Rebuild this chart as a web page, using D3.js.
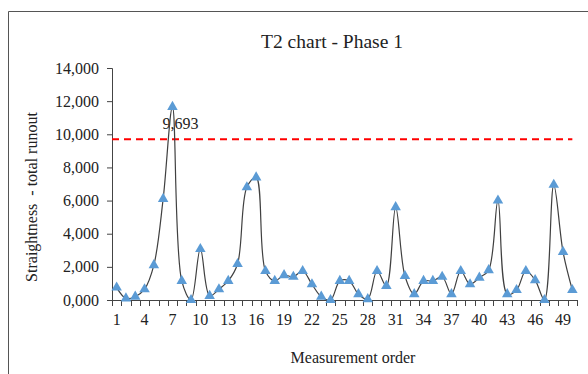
<!DOCTYPE html>
<html>
<head>
<meta charset="utf-8">
<script src="https://cdn.jsdelivr.net/npm/d3@7"></script>
<style>
  body { margin: 0; background: #fff; }
  svg text { font-family: "Liberation Serif", "DejaVu Serif", serif; fill: #222; }
</style>
</head>
<body>
<svg id="chart" width="588" height="374"></svg>
<script>
// measurement order 1..50
const order = d3.range(1, 51);
const runout = [
  750, 100, 200, 650, 2100, 6100, 11650, 1150, 0, 3080,
  250, 650, 1150, 2170, 6800, 7400, 1750, 1150, 1500, 1400,
  1750, 950, 200, 0, 1150, 1150, 350, 50, 1750, 850,
  5600, 1450, 350, 1150, 1150, 1400, 350, 1750, 950, 1350,
  1800, 6000, 350, 600, 1750, 1200, 0, 6950, 2900, 600
];
const limit = 9693;
const yTicks = [0, 2000, 4000, 6000, 8000, 10000, 12000, 14000];
const yTickLabels = ['0,000', '2,000', '4,000', '6,000', '8,000', '10,000', '12,000', '14,000'];
const xLabelled = [1, 4, 7, 10, 13, 16, 19, 22, 25, 28, 31, 34, 37, 40, 43, 46, 49];

const svg = d3.select('#chart');
const margin = { top: 68, right: 11, bottom: 74, left: 112 };
const width = 588 - margin.left - margin.right;
const height = 374 - margin.top - margin.bottom;

// frame (left + top edge visible)
svg.append('path')
  .attr('d', 'M8.5,374 V11.5 H588')
  .attr('fill', 'none')
  .attr('stroke', '#555')
  .attr('stroke-width', 1);

svg.append('text')
  .attr('x', 332).attr('y', 48)
  .attr('text-anchor', 'middle')
  .style('font-size', '19.5px')
  .text('T2 chart - Phase 1');

const g = svg.append('g').attr('transform', `translate(${margin.left},${margin.top})`);

const x = d3.scaleBand().domain(order).range([0, width]);
const y = d3.scaleLinear().domain([0, 14000]).range([height, 0]);

// y axis
const yAxis = g.append('g')
  .call(d3.axisLeft(y).tickValues(yTicks).tickSize(5).tickPadding(8)
    .tickFormat((d, i) => yTickLabels[i]));
yAxis.selectAll('text').style('font-size', '16px').attr('fill', '#222');
yAxis.selectAll('line, path').attr('stroke', '#444');
yAxis.select('.domain').attr('d', `M0.5,${height}V0.5H-5`);

// x axis: ticks at category boundaries
const xAxis = g.append('g').attr('transform', `translate(0,${height})`);
xAxis.append('line').attr('x1', 0).attr('x2', width).attr('y1', 0.5).attr('y2', 0.5).attr('stroke', '#444');
xAxis.selectAll('.tk')
  .data(d3.range(0, 51))
  .enter().append('line')
  .attr('x1', i => Math.round(i * x.step()) + 0.5)
  .attr('x2', i => Math.round(i * x.step()) + 0.5)
  .attr('y1', 0).attr('y2', 6)
  .attr('stroke', '#444');
xAxis.selectAll('.lbl')
  .data(xLabelled)
  .enter().append('text')
  .attr('x', d => x(d) + x.bandwidth() / 2)
  .attr('y', 25)
  .attr('text-anchor', 'middle')
  .style('font-size', '16px')
  .text(d => d);

// axis titles
svg.append('text')
  .attr('transform', 'translate(37,197) rotate(-90)')
  .attr('text-anchor', 'middle')
  .style('font-size', '16px')
  .style('white-space', 'pre')
  .text('Straightness  - total runout');

svg.append('text')
  .attr('x', 353).attr('y', 363)
  .attr('text-anchor', 'middle')
  .style('font-size', '16px')
  .text('Measurement order');

// limit line
g.append('line')
  .attr('x1', 0).attr('x2', x(50) + x.bandwidth() / 2)
  .attr('y1', y(limit)).attr('y2', y(limit))
  .attr('stroke', '#ff0000')
  .attr('stroke-width', 2)
  .attr('stroke-dasharray', '7,5');

g.append('text')
  .attr('x', x(7) + x.bandwidth() / 2 + 8)
  .attr('y', y(limit) - 10)
  .attr('text-anchor', 'middle')
  .style('font-size', '16px')
  .text(d3.format(',')(limit));

// data line
const data = order.map((d, i) => ({ n: d, v: runout[i] }));
const line = d3.line()
  .x(d => x(d.n) + x.bandwidth() / 2)
  .y(d => y(d.v))
  .curve(d3.curveCatmullRom.alpha(0.5));

g.append('path')
  .datum(data)
  .attr('fill', 'none')
  .attr('stroke', '#404040')
  .attr('stroke-width', 1.2)
  .attr('d', line);

g.selectAll('.dot')
  .data(data)
  .enter().append('path')
  .attr('class', 'dot')
  .attr('transform', d => `translate(${x(d.n) + x.bandwidth() / 2},${y(d.v)})`)
  .attr('d', d3.symbol().type(d3.symbolTriangle).size(48))
  .attr('fill', '#5b9bd5');
</script>
</body>
</html>
